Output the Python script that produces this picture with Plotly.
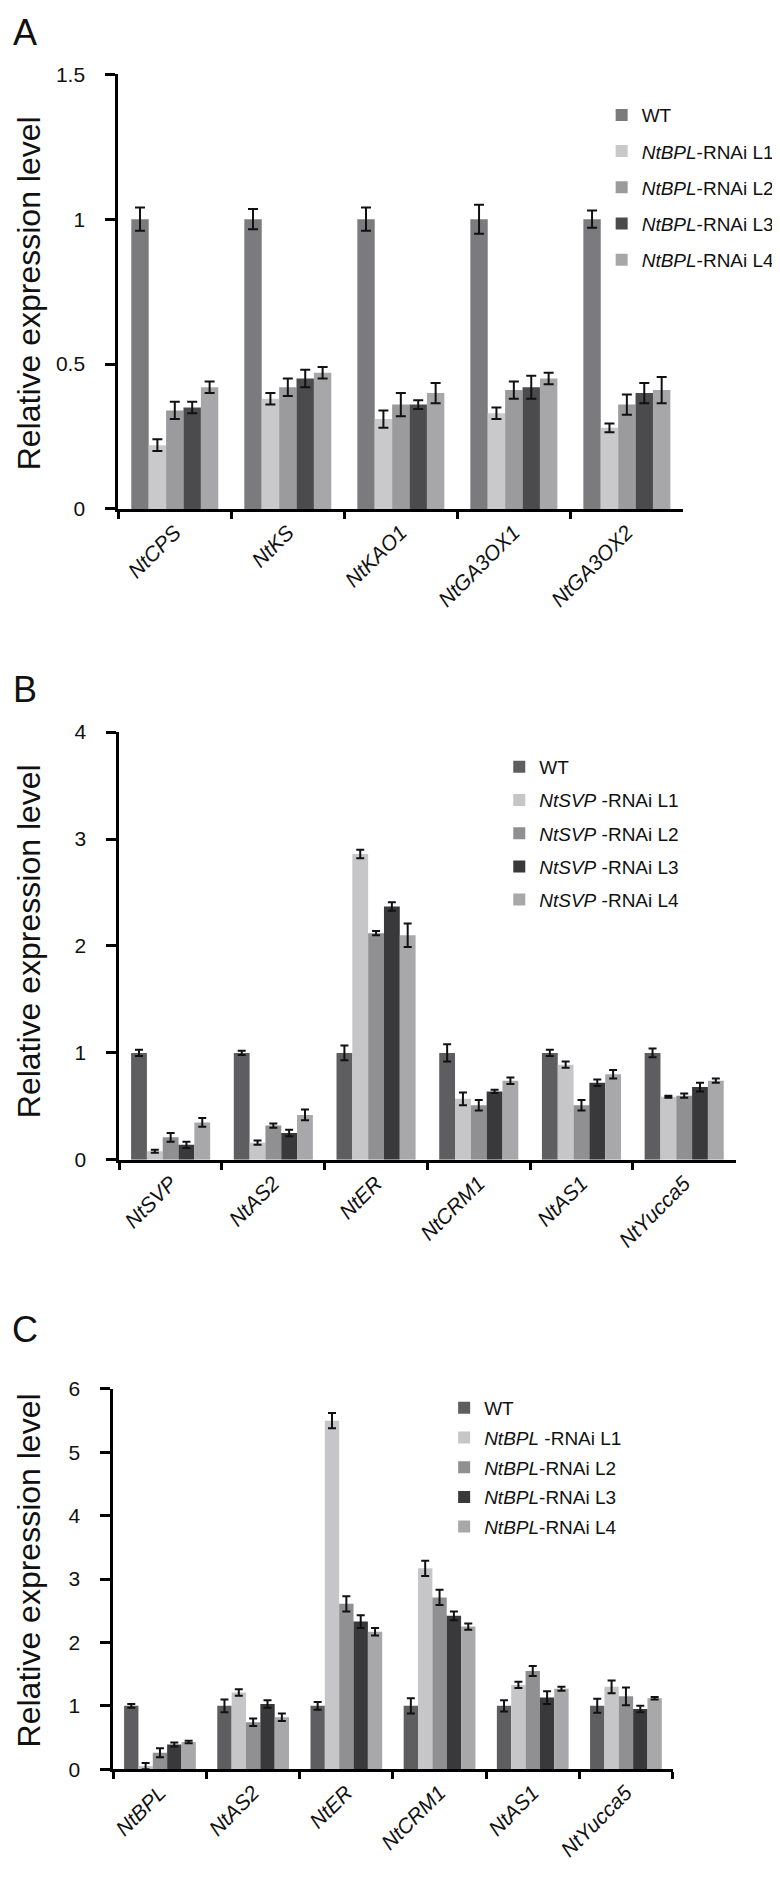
import plotly.graph_objects as go

# screen size; the page body has an 8 px margin, so the figure is made
# 8 px smaller and all positions are given in screen pixels minus that offset
SW, SH = 780, 1878
OFF = 8
W, H = SW - OFF, SH - OFF
FONT = "Liberation Sans, Arial, sans-serif"

# ---------------- Panel A ----------------
genes_a = ["NtCPS", "NtKS", "NtKAO1", "NtGA3OX1", "NtGA3OX2"]
a_wt = [1.00, 1.00, 1.00, 1.00, 1.00]
a_l1 = [0.22, 0.38, 0.31, 0.33, 0.28]
a_l2 = [0.34, 0.42, 0.36, 0.41, 0.36]
a_l3 = [0.35, 0.45, 0.36, 0.42, 0.40]
a_l4 = [0.42, 0.47, 0.40, 0.45, 0.41]
a_wt_err = [0.04, 0.035, 0.04, 0.05, 0.03]
a_l1_err = [0.02, 0.02, 0.03, 0.02, 0.015]
a_l2_err = [0.03, 0.03, 0.04, 0.03, 0.035]
a_l3_err = [0.02, 0.03, 0.015, 0.04, 0.035]
a_l4_err = [0.02, 0.02, 0.035, 0.02, 0.045]
a_legend = ["WT", "<i>NtBPL</i>-RNAi L1", "<i>NtBPL</i>-RNAi L2",
            "<i>NtBPL</i>-RNAi L3", "<i>NtBPL</i>-RNAi L4"]

# ---------------- Panel B ----------------
genes_b = ["NtSVP", "NtAS2", "NtER", "NtCRM1", "NtAS1", "NtYucca5"]
b_wt = [1.00, 1.00, 1.00, 1.00, 1.00, 1.00]
b_l1 = [0.08, 0.16, 2.86, 0.57, 0.89, 0.59]
b_l2 = [0.21, 0.32, 2.12, 0.51, 0.51, 0.60]
b_l3 = [0.14, 0.25, 2.37, 0.64, 0.72, 0.68]
b_l4 = [0.35, 0.42, 2.10, 0.74, 0.80, 0.74]
b_wt_err = [0.03, 0.02, 0.07, 0.08, 0.03, 0.04]
b_l1_err = [0.015, 0.02, 0.04, 0.06, 0.03, 0.01]
b_l2_err = [0.04, 0.02, 0.02, 0.05, 0.05, 0.02]
b_l3_err = [0.03, 0.03, 0.04, 0.015, 0.03, 0.04]
b_l4_err = [0.04, 0.05, 0.11, 0.03, 0.04, 0.02]
b_legend = ["WT", "<i>NtSVP</i> -RNAi L1", "<i>NtSVP</i> -RNAi L2",
            "<i>NtSVP</i> -RNAi L3", "<i>NtSVP</i> -RNAi L4"]

# ---------------- Panel C ----------------
genes_c = ["NtBPL", "NtAS2", "NtER", "NtCRM1", "NtAS1", "NtYucca5"]
c_wt = [1.00, 1.00, 1.00, 1.00, 1.00, 1.00]
c_l1 = [0.05, 1.21, 5.50, 3.17, 1.33, 1.30]
c_l2 = [0.26, 0.74, 2.61, 2.71, 1.55, 1.15]
c_l3 = [0.39, 1.03, 2.33, 2.42, 1.13, 0.95]
c_l4 = [0.43, 0.82, 2.17, 2.25, 1.27, 1.12]
c_wt_err = [0.03, 0.10, 0.06, 0.12, 0.09, 0.11]
c_l1_err = [0.05, 0.05, 0.12, 0.12, 0.05, 0.10]
c_l2_err = [0.07, 0.06, 0.12, 0.12, 0.08, 0.14]
c_l3_err = [0.03, 0.06, 0.10, 0.07, 0.10, 0.05]
c_l4_err = [0.02, 0.06, 0.06, 0.05, 0.03, 0.02]
c_legend = ["WT", "<i>NtBPL</i> -RNAi L1", "<i>NtBPL</i>-RNAi L2",
            "<i>NtBPL</i>-RNAi L3", "<i>NtBPL</i>-RNAi L4"]

colors_a = ["#7b7b7d", "#c9c9cb", "#9b9b9e", "#4b4b4d", "#a7a7a9"]
colors_bc = ["#5e5e60", "#c6c6c8", "#909092", "#39393b", "#a8a8aa"]


def px_x(p):
    return (p - OFF) / W


def px_y(p):
    return 1 - (p - OFF) / H


fig = go.Figure()

panels = [
    dict(genes=genes_a, vals=[a_wt, a_l1, a_l2, a_l3, a_l4],
         errs=[a_wt_err, a_l1_err, a_l2_err, a_l3_err, a_l4_err],
         names=a_legend, colors=colors_a, xa="x", ya="y", leg="legend", cap=5),
    dict(genes=genes_b, vals=[b_wt, b_l1, b_l2, b_l3, b_l4],
         errs=[b_wt_err, b_l1_err, b_l2_err, b_l3_err, b_l4_err],
         names=b_legend, colors=colors_bc, xa="x2", ya="y2", leg="legend2", cap=4),
    dict(genes=genes_c, vals=[c_wt, c_l1, c_l2, c_l3, c_l4],
         errs=[c_wt_err, c_l1_err, c_l2_err, c_l3_err, c_l4_err],
         names=c_legend, colors=colors_bc, xa="x3", ya="y3", leg="legend3", cap=4),
]

for pi, p in enumerate(panels):
    for i in range(5):
        fig.add_trace(go.Bar(
            x=p["genes"], y=p["vals"][i], name=p["names"][i],
            marker=dict(color=p["colors"][i], line=dict(width=0)),
            error_y=dict(type="data", array=p["errs"][i], visible=True,
                         color="#111111", thickness=2, width=p["cap"]),
            xaxis=p["xa"], yaxis=p["ya"], legend=p["leg"],
            legendgroup=f"p{pi}_{i}",
        ))

axis_common = dict(showline=True, linecolor="black", linewidth=3, mirror=False,
                   showgrid=False, zeroline=False, ticks="outside",
                   tickcolor="black", tickwidth=2.5)

xfont = dict(family=FONT, size=21, color="#111111", style="italic")
yfont = dict(family=FONT, size=21, color="#111111")

# panel geometry in screen pixels: (x0, x1, ytop, ybottom)
geo = [(118, 692, 63, 503), (119, 745, 729, 1162), (113, 681, 1394, 1779)]
yranges = [[0, 1.5], [0, 4], [0, 6]]
ytickvals = [[0, 0.5, 1, 1.5], [0, 1, 2, 3, 4], [0, 1, 2, 3, 4, 5, 6]]
yticktext = [["0", "0.5", "1", "1.5"], ["0", "1", "2", "3", "4"],
             ["0", "1", "2", "3", "4", "5", "6"]]

layout = dict(
    width=W, height=H, margin=dict(l=0, r=0, t=0, b=0),
    paper_bgcolor="white", plot_bgcolor="white",
    barmode="group", bargap=0.23, bargroupgap=0,
    font=dict(family=FONT, color="#111111"),
)

for k, (x0, x1, yt, yb) in enumerate(geo):
    sx = "" if k == 0 else str(k + 1)
    layout["xaxis" + sx] = dict(axis_common, domain=[px_x(x0), px_x(x1)],
                                anchor="y" + sx, tickson="boundaries", ticklen=7,
                                tickangle=-45, tickfont=xfont,
                                range=[-0.5, len(panels[k]["genes"]) - 0.5])
    layout["yaxis" + sx] = dict(axis_common, domain=[px_y(yb), px_y(yt)],
                                anchor="x" + sx, range=yranges[k], ticklen=10,
                                tickvals=ytickvals[k], ticktext=yticktext[k],
                                tickfont=yfont, ticklabelstandoff=16)

leg_common = dict(bgcolor="rgba(0,0,0,0)", borderwidth=0, xanchor="left",
                  yanchor="top", traceorder="grouped", itemwidth=30,
                  font=dict(family=FONT, size=19, color="#111111"))
layout["legend"] = dict(leg_common, x=px_x(609), y=px_y(85), tracegroupgap=8.5)
layout["legend2"] = dict(leg_common, x=px_x(505), y=px_y(745), tracegroupgap=5.5)
layout["legend3"] = dict(leg_common, x=px_x(449), y=px_y(1394), tracegroupgap=2)

fig.update_layout(**layout)

# y-axis titles and panel letters (screen pixel centres)
title_y_centres = [285, 941, 1578]
for yc in title_y_centres:
    fig.add_annotation(x=px_x(27), y=px_y(yc), xref="paper", yref="paper",
                       text="Relative expression level", textangle=-90,
                       showarrow=False, xanchor="center", yanchor="middle",
                       font=dict(family=FONT, size=32, color="#111111"))

for letter, yc in [("A", 21), ("B", 686), ("C", 1334)]:
    fig.add_annotation(x=px_x(23), y=px_y(yc), xref="paper", yref="paper",
                       text=letter, showarrow=False, xanchor="center",
                       yanchor="middle",
                       font=dict(family=FONT, size=36, color="#111111"))

fig.write_html("out.html")
